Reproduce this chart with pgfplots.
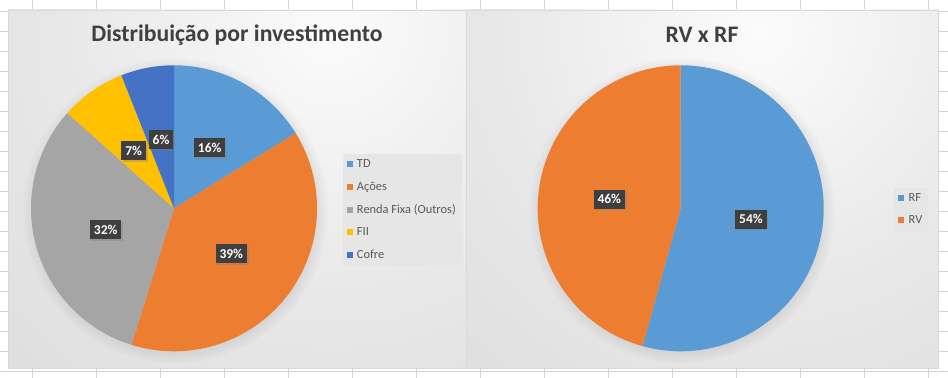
\documentclass[border=0pt]{standalone}
\usepackage{pgfplots}
\pgfplotsset{compat=1.18}
\usepackage{pgfplotstable}
\usepackage{fontspec}
\setmainfont{Carlito}
\usetikzlibrary{shadows,fadings}

\definecolor{pieA0}{HTML}{5B9BD5}
\definecolor{pieA1}{HTML}{ED7D31}
\definecolor{pieA2}{HTML}{A5A5A5}
\definecolor{pieA3}{HTML}{FFC000}
\definecolor{pieA4}{HTML}{4472C4}
\definecolor{pieB0}{HTML}{5B9BD5}
\definecolor{pieB1}{HTML}{ED7D31}
\definecolor{titlegray}{HTML}{404040}
\definecolor{leggray}{HTML}{595959}
\definecolor{labbox}{HTML}{3F3F3F}
\definecolor{gridc}{HTML}{D4D4D4}
\definecolor{legbg}{HTML}{E6E6E6}

\pgfdeclareradialshading{chartbg}{\pgfpoint{0bp}{0bp}}{rgb(0bp)=(0.985,0.985,0.985); rgb(14bp)=(0.91,0.91,0.91); rgb(34bp)=(0.84,0.84,0.84); rgb(50bp)=(0.77,0.77,0.77)}

% Distribuição por investimento (values in %, label positions in radius units)
\pgfplotstableread{
name value lx ly
TD 16.2 0.2497 0.4238
Acoes 38.6 0.4007 -0.3175
RendaFixa 31.8 -0.4776 -0.1497
FII 7.4 -0.2818 0.4007
Cofre 6.0 -0.0909 0.4776
}\investtable

% RV x RF
\pgfplotstableread{
name value lx ly
RF 54.3 0.4916 -0.0770
RV 45.7 -0.4993 0.0630
}\rvrftable

\newcommand{\computepie}[2]{%
  \pgfplotstablegetrowsof{#1}%
  \pgfmathtruncatemacro\pieLast{\pgfplotsretval-1}%
  \xdef\pieCum{0}%
  \foreach \i in {0,...,\pieLast}{%
    \pgfplotstablegetelem{\i}{value}\of{#1}%
    \pgfmathsetmacro\pieV{\pgfplotsretval}%
    \pgfmathsetmacro\pieS{90-3.6*\pieCum}%
    \pgfmathsetmacro\pieE{90-3.6*(\pieCum+\pieV)}%
    \pgfmathtruncatemacro\pieL{round(\pieV)}%
    \expandafter\xdef\csname #2s\i\endcsname{\pieS}%
    \expandafter\xdef\csname #2e\i\endcsname{\pieE}%
    \expandafter\xdef\csname #2l\i\endcsname{\pieL}%
    \pgfplotstablegetelem{\i}{lx}\of{#1}%
    \expandafter\xdef\csname #2x\i\endcsname{\pgfplotsretval}%
    \pgfplotstablegetelem{\i}{ly}\of{#1}%
    \expandafter\xdef\csname #2y\i\endcsname{\pgfplotsretval}%
    \pgfmathsetmacro\pieC{\pieCum+\pieV}%
    \xdef\pieCum{\pieC}%
  }%
}

\tikzset{
  lab/.style={fill=labbox, text=white, font=\bfseries\fontsize{13.5bp}{15bp}\selectfont,
    inner xsep=4bp, inner ysep=0bp, minimum height=19bp,
    drop shadow={shadow xshift=1.5bp, shadow yshift=-1.5bp, opacity=0.35}},
  ttl/.style={font=\bfseries\fontsize{23.7bp}{28bp}\selectfont, text=titlegray},
}

\pgfplotsset{
  piechart/.style={
    hide axis, scale only axis, clip=false,
    x=143bp, y=143bp,
    ymin=-1.1168, ymax=1.3867,
    legend cell align=left,
    legend image code/.code={\fill[##1] (0bp,-3bp) rectangle (6bp,3bp);},
    legend style={anchor=north west, fill=legbg, draw=none,
      font=\fontsize{12.4bp}{14bp}\selectfont, text=leggray,
      inner xsep=4bp, inner ysep=4bp, row sep=8.8bp, column sep=2.5bp},
  },
}

\begin{document}
\begin{tikzpicture}
\useasboundingbox (0,0) rectangle (948bp,378bp);
\computepie{\investtable}{A}
\computepie{\rvrftable}{B}

\begin{scope}[shift={(0,378bp)}, x=1bp, y=-1bp]
  \fill[white] (0,0) rectangle (948,378);
  \foreach \gx in {32.5,96.5,...,930} \draw[gridc, line width=1bp] (\gx,0) -- (\gx,378);
  \foreach \gy in {11.5,31.5,...,375} \draw[gridc, line width=1bp] (0,\gy) -- (948,\gy);
  \begin{scope}
    \clip (8,10) rectangle (466,368);
    \shade[shading=chartbg] (330,30) circle (470);
  \end{scope}
  \begin{scope}
    \clip (466,10) rectangle (938,368);
    \shade[shading=chartbg] (760,30) circle (470);
  \end{scope}
  \draw[gray!30, line width=0.6bp] (8,10) rectangle (466,368);
  \draw[gray!30, line width=0.6bp] (466,10) rectangle (938,368);
\end{scope}

\begin{axis}[piechart,
  at={(174bp,169.7bp)}, anchor=origin,
  xmin=-1.1608, xmax=2.042,
  legend style={at={(0.7299,0.5997)}},
]
\path[circular drop shadow={shadow scale=1.07, shadow xshift=1bp, shadow yshift=-2bp, opacity=0.3}] (axis cs:0,0) circle[radius=143bp];
\pgfplotsinvokeforeach{0,...,4}{
  \fill[pieA#1] (axis cs:0,0) -- ++({\csname As#1\endcsname}:143bp)
    arc[start angle=\csname As#1\endcsname, end angle=\csname Ae#1\endcsname, radius=143bp] -- cycle;
}
\pgfplotsinvokeforeach{0,...,4}{
  \node[lab] at (axis cs:{\csname Ax#1\endcsname},{\csname Ay#1\endcsname}) {\csname Al#1\endcsname\%};
}
\node[ttl] at (rel axis cs:0.5,0.930) {Distribuição por investimento};
\addlegendimage{fill=pieA0, draw=none}\addlegendentry{TD}
\addlegendimage{fill=pieA1, draw=none}\addlegendentry{Ações}
\addlegendimage{fill=pieA2, draw=none}\addlegendentry{Renda Fixa (Outros)}
\addlegendimage{fill=pieA3, draw=none}\addlegendentry{FII}
\addlegendimage{fill=pieA4, draw=none}\addlegendentry{Cofre}
\end{axis}

\begin{axis}[piechart,
  at={(680.7bp,169.7bp)}, anchor=origin,
  xmin=-1.5014, xmax=1.7993,
  legend style={at={(0.9068,0.5047)}},
]
\path[circular drop shadow={shadow scale=1.07, shadow xshift=1bp, shadow yshift=-2bp, opacity=0.3}] (axis cs:0,0) circle[radius=143bp];
\pgfplotsinvokeforeach{0,...,1}{
  \fill[pieB#1] (axis cs:0,0) -- ++({\csname Bs#1\endcsname}:143bp)
    arc[start angle=\csname Bs#1\endcsname, end angle=\csname Be#1\endcsname, radius=143bp] -- cycle;
}
\pgfplotsinvokeforeach{0,...,1}{
  \node[lab] at (axis cs:{\csname Bx#1\endcsname},{\csname By#1\endcsname}) {\csname Bl#1\endcsname\%};
}
\node[ttl] at (rel axis cs:0.5,0.930) {RV x RF};
\addlegendimage{fill=pieB0, draw=none}\addlegendentry{RF}
\addlegendimage{fill=pieB1, draw=none}\addlegendentry{RV}
\end{axis}
\end{tikzpicture}
\end{document}
